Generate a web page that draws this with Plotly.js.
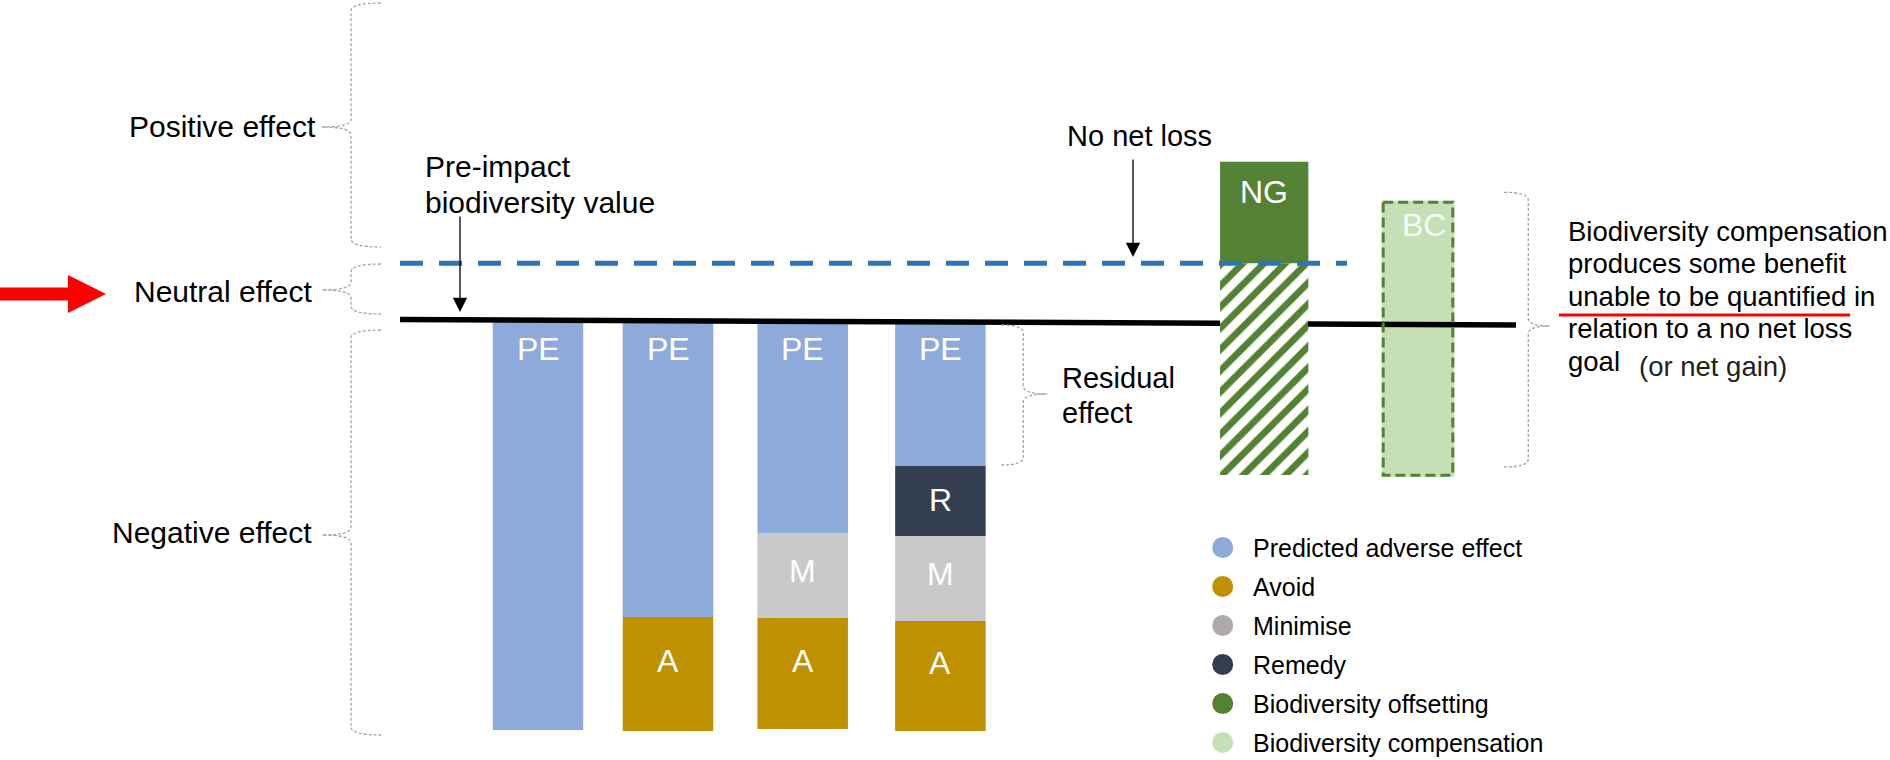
<!DOCTYPE html>
<html><head><meta charset="utf-8">
<script src="https://cdn.plot.ly/plotly-3.0.1.min.js"></script>
<style>html,body{margin:0;padding:0;background:#fff;overflow:hidden}</style>
</head><body><div id="chart" style="width:1890px;height:760px"></div>
<script>
// ---------------- data ----------------
const stages = ['Predicted impact', 'Avoid', 'Minimise', 'Remedy'];
const predictedEffect = [-40.9, -29.6, -21.2, -14.5];
const remedyVals      = [0, 0, 0, -7.0];
const minimiseVals    = [0, 0, -8.5, -8.5];
const avoidVals       = [0, -11.4, -11.1, -11.0];
const noNetLossLevel  = 5.77;
const netGainVals     = [10.16];
const offsetBase      = [-15.4];
const offsetVals      = [21.17];
const compensationBase = [-15.57];
const compensationVals = [27.6];
const baselineX = [400, 960, 1220, null, 1308, 1516];
const baselineY = [0.15, -0.07, -0.23, null, -0.3, -0.4];
const noNetLossX = [400, 1347];
const legendLabels = ['Predicted adverse effect', 'Avoid', 'Minimise', 'Remedy',
  'Biodiversity offsetting', 'Biodiversity compensation'];
const effectLabels = ['Positive effect', 'Neutral effect', 'Negative effect'];
const compensationNote = ['Biodiversity compensation', 'produces some benefit',
  'unable to be quantified in', 'relation to a no net loss', 'goal'];

// ---------------- layout constants ----------------
const Y0 = 321, K = 10;
const Y = py => (Y0 - py) / K;       // pixel row -> value units
const barX = [538, 668, 802.7, 940.4];
const barW = 90.5;
const ngX = 1264.2, ngW = 88.3;
const bcX = 1418, bcW = 72.6;
const C = {pe:'#8eaadb', a:'#bf9000', m:'#c9c9c9', mLeg:'#aeaaaa', r:'#333f50',
  ng:'#548235', bc:'#c5e0b4', blue:'#2e75b6'};
const FONT = 'Liberation Sans, Arial, Helvetica, sans-serif';

// stacking (explicit bases)
const baseR = predictedEffect.slice();
const baseM = baseR.map((b, i) => b + remedyVals[i]);
const baseA = baseM.map((b, i) => b + minimiseVals[i]);

function barTrace(vals, base, color, name) {
  return {type:'bar', x:barX, y:vals, base:base, width:barW, name:name,
    marker:{color:color, line:{width:0}}, hovertext:stages, hoverinfo:'text+y',
    showlegend:false};
}
const traces = [
  barTrace(predictedEffect, [0,0,0,0], C.pe, 'Predicted adverse effect'),
  barTrace(remedyVals, baseR, C.r, 'Remedy'),
  barTrace(minimiseVals, baseM, C.m, 'Minimise'),
  barTrace(avoidVals, baseA, C.a, 'Avoid'),
  {type:'bar', x:[ngX], y:offsetVals, base:offsetBase, width:ngW, showlegend:false,
    marker:{color:C.ng, line:{width:0},
      pattern:{shape:'/', fgcolor:C.ng, bgcolor:'#ffffff', size:15, solidity:0.45}}},
  {type:'bar', x:[ngX], y:netGainVals, base:[noNetLossLevel], width:ngW, showlegend:false,
    marker:{color:C.ng, line:{width:0}}},
  {type:'bar', x:[bcX], y:compensationVals, base:compensationBase, width:bcW, showlegend:false,
    marker:{color:C.bc, line:{width:0}}},
  {type:'scatter', mode:'lines', x:baselineX, y:baselineY, line:{color:'#000', width:5.5},
    hoverinfo:'skip', showlegend:false, connectgaps:false},
  {type:'scatter', mode:'lines', x:noNetLossX, y:[noNetLossLevel, noNetLossLevel],
    line:{color:C.blue, width:5, dash:'23px,16px'}, hoverinfo:'skip', showlegend:false}
];
// dashed outline of compensation bar
(function(){
  const l = bcX - bcW/2 + 1.5, r = bcX + bcW/2 - 1.5;
  const b = compensationBase[0] + 0.15, t = compensationBase[0] + compensationVals[0] - 0.15;
  traces.push({type:'scatter', mode:'lines', x:[l, r, r, l, l], y:[t, t, b, b, t],
    line:{color:C.ng, width:3, dash:'10px,5px'}, hoverinfo:'skip', showlegend:false});
})();
// legend markers
const legColors = [C.pe, C.a, C.mLeg, C.r, C.ng, C.bc];
const legX = 1222.7, legY0 = 547.5, legDy = 39;
traces.push({type:'scatter', mode:'markers', x:legendLabels.map(() => legX),
  y:legendLabels.map((_, i) => Y(legY0 + i * legDy)),
  marker:{size:21, color:legColors, line:{width:0}}, hoverinfo:'skip', showlegend:false});

// ---------------- annotations ----------------
const ann = [];
function txt(text, px, py, size, anchor, color) {
  ann.push({text:text, x:px, y:Y(py), xref:'x', yref:'y', showarrow:false,
    xanchor:anchor || 'left', yanchor:'middle',
    font:{family:FONT, size:size, color:color || '#000'}});
}
// left effect labels
txt(effectLabels[0], 318, 126, 30, 'right');
txt(effectLabels[1], 315, 291, 30, 'right');
txt(effectLabels[2], 314, 532.5, 30, 'right');
// pre-impact
txt('Pre-impact', 423, 166, 30);
txt('biodiversity value', 423, 202, 30);
txt('No net loss', 1065, 136.3, 29);
txt('Residual', 1060, 378, 29);
txt('effect', 1060, 413, 29);
// right note
const noteBase = [241.7, 273.3, 306.7, 338.3, 371.7];
compensationNote.forEach((t, i) => txt(t, 1566, noteBase[i] - 10, 27.5));
txt('(or net gain)', 1637, 366.7, 27.5, 'left', '#222');
// legend texts
legendLabels.forEach((t, i) => txt(t, 1251, legY0 + i * legDy, 25));
// arrows
function arrow(px, pyTail, pyHead) {
  ann.push({text:'', x:px, y:Y(pyHead), ax:px, ay:Y(pyTail), xref:'x', yref:'y',
    axref:'x', ayref:'y', showarrow:true, arrowhead:2, arrowsize:2.2,
    arrowwidth:1.3, arrowcolor:'#000'});
}
arrow(460, 215, 312);
arrow(1133, 158, 257);
// bar segment labels
const segLabelFont = {family:FONT, size:32, color:'#ffffff'};
function segLabel(t, x, y) {
  ann.push({text:t, x:x, y:y, xref:'x', yref:'y', showarrow:false, xanchor:'center',
    yanchor:'middle', font:segLabelFont});
}
barX.forEach((x, i) => {
  segLabel('PE', x, 0 - 2.75);
  if (remedyVals[i]) segLabel('R', x, baseR[i] + remedyVals[i] / 2 + 0.1);
  if (minimiseVals[i]) segLabel('M', x, baseM[i] + minimiseVals[i] / 2 + 0.5);
  if (avoidVals[i]) segLabel('A', x, baseA[i] + avoidVals[i] / 2 + 1.3);
});
segLabel('NG', ngX, noNetLossLevel + netGainVals[0] - 3.0);
ann.push({text:'BC', x:bcX + 6, y:compensationBase[0] + compensationVals[0] - 2.4,
  xref:'x', yref:'y', showarrow:false, xanchor:'center', yanchor:'middle',
  font:{family:FONT, size:32, color:'rgba(255,255,255,0.92)'}});

// ---------------- shapes ----------------
const P = (x, y) => x + ',' + Y(y);
function bracePath(v, end, tip, top, mid, bot, r) {
  return 'M' + P(end, top) + ' Q' + P(v, top) + ' ' + P(v, top + r) +
    ' L' + P(v, mid - r) + ' Q' + P(v, mid) + ' ' + P(tip, mid) +
    ' Q' + P(v, mid) + ' ' + P(v, mid + r) +
    ' L' + P(v, bot - r) + ' Q' + P(v, bot) + ' ' + P(end, bot);
}
const braceLine = {color:'#a3a3a3', width:1.3, dash:'3px,2px'};
const braces = [
  [351, 381, 322, 3, 127, 247, 8],
  [351, 381, 322, 264, 290, 314, 8],
  [351, 381, 322, 330, 535, 735, 8],
  [1023.3, 1001.7, 1047.3, 325, 394, 465, 8],
  [1528.3, 1504, 1550, 192.3, 326, 467, 8]
];
const shapes = braces.map(b => ({type:'path', xref:'x', yref:'y',
  path:bracePath.apply(null, b), line:braceLine}));
shapes.push({type:'path', xref:'x', yref:'y', fillcolor:'#ff0000', line:{width:0},
  path:'M' + P(0, 287.5) + ' L' + P(68, 287.5) + ' L' + P(68, 275) + ' L' + P(106, 294) +
    ' L' + P(68, 313) + ' L' + P(68, 300.5) + ' L' + P(0, 300.5) + ' Z'});
shapes.push({type:'line', xref:'x', yref:'y', x0:1559, x1:1850, y0:Y(315), y1:Y(315),
  line:{color:'#ff0000', width:3}});

const layout = {
  width:1890, height:760, autosize:false,
  margin:{l:0, r:0, t:0, b:0, pad:0},
  paper_bgcolor:'#ffffff', plot_bgcolor:'#ffffff',
  barmode:'overlay', showlegend:false,
  font:{family:FONT, color:'#000'},
  xaxis:{range:[0, 1890], visible:false, fixedrange:true},
  yaxis:{range:[Y(760), Y(0)], visible:false, fixedrange:true},
  annotations:ann, shapes:shapes
};
Plotly.newPlot('chart', traces, layout, {displayModeBar:false, staticPlot:true});
</script></body></html>
